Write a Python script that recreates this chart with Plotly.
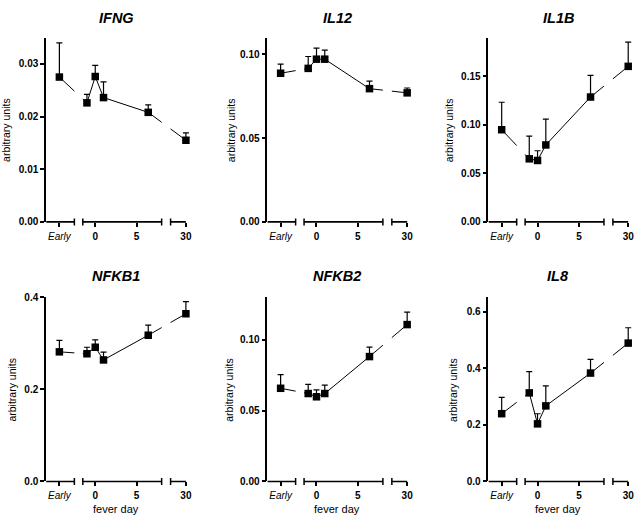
import plotly.graph_objects as go

# ---------------- data ----------------
genes = ["IFNG", "IL12", "IL1B", "NFKB1", "NFKB2", "IL8"]
early_label = "Early"
fever_days = [-1, 0, 1, 6.4, 30]          # days after fever onset (Early is first point)

ifng_mean = [0.0275, 0.0226, 0.0276, 0.0236, 0.0208, 0.0155]
ifng_sem = [0.0065, 0.0016, 0.0021, 0.0030, 0.0014, 0.0014]
il12_mean = [0.0887, 0.0916, 0.0971, 0.0971, 0.0795, 0.0770]
il12_sem = [0.0055, 0.0071, 0.0066, 0.0054, 0.0045, 0.0029]
il1b_mean = [0.0950, 0.0650, 0.0633, 0.0793, 0.1287, 0.1603]
il1b_sem = [0.0283, 0.0233, 0.0100, 0.0267, 0.0223, 0.0250]
nfkb1_mean = [0.2817, 0.2775, 0.2917, 0.2641, 0.3178, 0.3645]
nfkb1_sem = [0.0249, 0.0142, 0.0162, 0.0170, 0.0219, 0.0262]
nfkb2_mean = [0.0658, 0.0621, 0.0598, 0.0621, 0.0882, 0.1108]
nfkb2_sem = [0.0097, 0.0065, 0.0049, 0.0060, 0.0067, 0.0088]
il8_mean = [0.2393, 0.3128, 0.2034, 0.2669, 0.3828, 0.4886]
il8_sem = [0.0573, 0.0748, 0.0356, 0.0703, 0.0482, 0.0542]

y_tops = [0.035, 0.11, 0.19, 0.40, 0.13, 0.65]
y_ticks = [[0.00, 0.01, 0.02, 0.03], [0.00, 0.05, 0.10], [0.00, 0.05, 0.10, 0.15],
           [0.0, 0.2, 0.4], [0.00, 0.05, 0.10], [0.0, 0.2, 0.4, 0.6]]
y_fmt = ["0.00", "0.00", "0.00", "0.0", "0.00", "0.0"]
x_tick_days = [0, 5, 30]

means = [ifng_mean, il12_mean, il1b_mean, nfkb1_mean, nfkb2_mean, il8_mean]
sems = [ifng_sem, il12_sem, il1b_sem, nfkb1_sem, nfkb2_sem, il8_sem]

# ---------------- broken x-axis scale ----------------
EARLY_POS = -4.33
SEG1 = (-5.93, -2.52)            # display range of "Early" segment
SEG2 = (-1.50, 8.02)             # display == data days
SEG3_DATA = (28.0, 30.0)
SEG3 = (9.10, 10.95)
X_RANGE = [SEG1[0], SEG3[1] + 0.6]


def to_disp(v):
    if v == early_label:
        return EARLY_POS
    if v >= SEG3_DATA[0]:
        f = (v - SEG3_DATA[0]) / (SEG3_DATA[1] - SEG3_DATA[0])
        return SEG3[0] + f * (SEG3[1] - SEG3[0])
    return float(v)


gaps = [(SEG1[1], SEG2[0]), (SEG2[1], SEG3[0])]


def broken_line(xs, ys):
    ox, oy = [], []
    for i in range(len(xs) - 1):
        x0, y0, x1, y1 = xs[i], ys[i], xs[i + 1], ys[i + 1]
        pieces = [(x0, x1)]
        for g0, g1 in gaps:
            new = []
            for a, b in pieces:
                if b <= g0 or a >= g1:
                    new.append((a, b))
                else:
                    if a < g0:
                        new.append((a, g0))
                    if b > g1:
                        new.append((g1, b))
            pieces = new
        for a, b in pieces:
            ya = y0 + (y1 - y0) * (a - x0) / (x1 - x0)
            yb = y0 + (y1 - y0) * (b - x0) / (x1 - x0)
            ox += [a, b, None]
            oy += [ya, yb, None]
    return ox, oy


# ---------------- layout geometry (pixels) ----------------
W, H = 638, 519
col_left = [46.2, 267.8, 489.2]
PX_PER_UNIT = 140.0 / (SEG3[1] - SEG1[0])
plot_w = PX_PER_UNIT * (X_RANGE[1] - X_RANGE[0])
row_top = [32.3, 298.3]
row_bot = [221.0, 486.7]
ylab_off = [40, 37, 40, 34, 38, 35]

FONT = "Liberation Sans, Arial, sans-serif"

fig = go.Figure()
layout = dict(width=W, height=H, margin=dict(l=0, r=0, t=0, b=0), autosize=False,
              plot_bgcolor="white", paper_bgcolor="white", showlegend=False,
              font=dict(family=FONT, color="black"))
shapes, annotations = [], []

x_all = [early_label] + fever_days
xd = [to_disp(v) for v in x_all]

for k, gene in enumerate(genes):
    r, c = divmod(k, 3)
    n = "" if k == 0 else str(k + 1)
    xa, ya = "x" + n, "y" + n
    x0p = col_left[c] / W
    x1p = (col_left[c] + plot_w) / W
    y0p = 1 - row_bot[r] / H
    y1p = 1 - row_top[r] / H

    lx, ly = broken_line(xd, means[k])
    fig.add_trace(go.Scatter(x=lx, y=ly, mode="lines", xaxis=xa, yaxis=ya,
                             line=dict(color="black", width=1), cliponaxis=False,
                             hoverinfo="skip"))
    fig.add_trace(go.Scatter(x=xd, y=means[k], mode="markers", xaxis=xa, yaxis=ya,
                             marker=dict(symbol="square", size=7.5, color="black"),
                             error_y=dict(type="data", symmetric=False, array=sems[k],
                                          arrayminus=[0] * len(sems[k]),
                                          color="black", thickness=1.2, width=3),
                             cliponaxis=False))

    tickvals = [EARLY_POS] + [to_disp(d) for d in x_tick_days]
    ticktext = ["<i>Early</i>"] + ["<b>%s</b>" % d for d in x_tick_days]
    layout["xaxis" + n] = dict(domain=[x0p, x1p], anchor=ya, range=X_RANGE,
                               showline=False, showgrid=False, zeroline=False,
                               tickmode="array", tickvals=tickvals, ticktext=ticktext,
                               ticks="outside", ticklen=4, tickwidth=1.5, tickcolor="black",
                               tickfont=dict(size=10, family=FONT, color="black"),
                               ticklabeloverflow="allow", ticklabelstandoff=1,
                               fixedrange=True)
    layout["yaxis" + n] = dict(domain=[y0p, y1p], anchor=xa, range=[0, y_tops[k]],
                               showline=True, linecolor="black", linewidth=1.7,
                               showgrid=False, zeroline=False,
                               tickmode="array", tickvals=y_ticks[k],
                               ticktext=[("%.2f" if y_fmt[k] == "0.00" else "%.1f") % v for v in y_ticks[k]],
                               ticks="outside", ticklen=4, tickwidth=1.5, tickcolor="black",
                               tickfont=dict(size=10, family=FONT, color="black", weight="bold"),
                               fixedrange=True)

    # segmented x-axis lines
    for s0, s1 in [SEG1, SEG2, SEG3]:
        shapes.append(dict(type="line", xref=xa, yref="paper", x0=s0, x1=s1, y0=y0p, y1=y0p,
                           line=dict(color="black", width=1.6)))
    for e in [SEG1[1], SEG2[0], SEG2[1], SEG3[0]]:
        shapes.append(dict(type="line", xref=xa, yref="paper", ysizemode="pixel", yanchor=y0p,
                           x0=e, x1=e, y0=-3.5, y1=3.5, line=dict(color="black", width=1.5)))

    # title
    cx = (col_left[c] + 70) / W
    ty = 12 if r == 0 else 276.7
    annotations.append(dict(text="<b><i>%s</i></b>" % gene, xref="paper", yref="paper",
                            x=cx, y=1 - ty / H, xanchor="center", yanchor="middle",
                            showarrow=False, font=dict(size=14.5, family=FONT, color="black")))
    # y label
    annotations.append(dict(text="arbitrary units", xref="paper", yref="paper",
                            x=(col_left[c] - ylab_off[k]) / W,
                            y=1 - (row_top[r] + row_bot[r]) / 2 / H,
                            textangle=-90, xanchor="center", yanchor="middle", showarrow=False,
                            font=dict(size=10.5, family=FONT, color="black")))
    if r == 1:
        annotations.append(dict(text="fever day", xref="paper", yref="paper",
                                x=cx, y=1 - 515 / H, xanchor="center", yanchor="middle",
                                showarrow=False, font=dict(size=11, family=FONT, color="black")))

layout["shapes"] = shapes
layout["annotations"] = annotations
fig.update_layout(**layout)
fig.write_html("out.html", config={"displayModeBar": False},
               post_script="document.body.style.margin='0px';document.body.style.padding='0px';")
